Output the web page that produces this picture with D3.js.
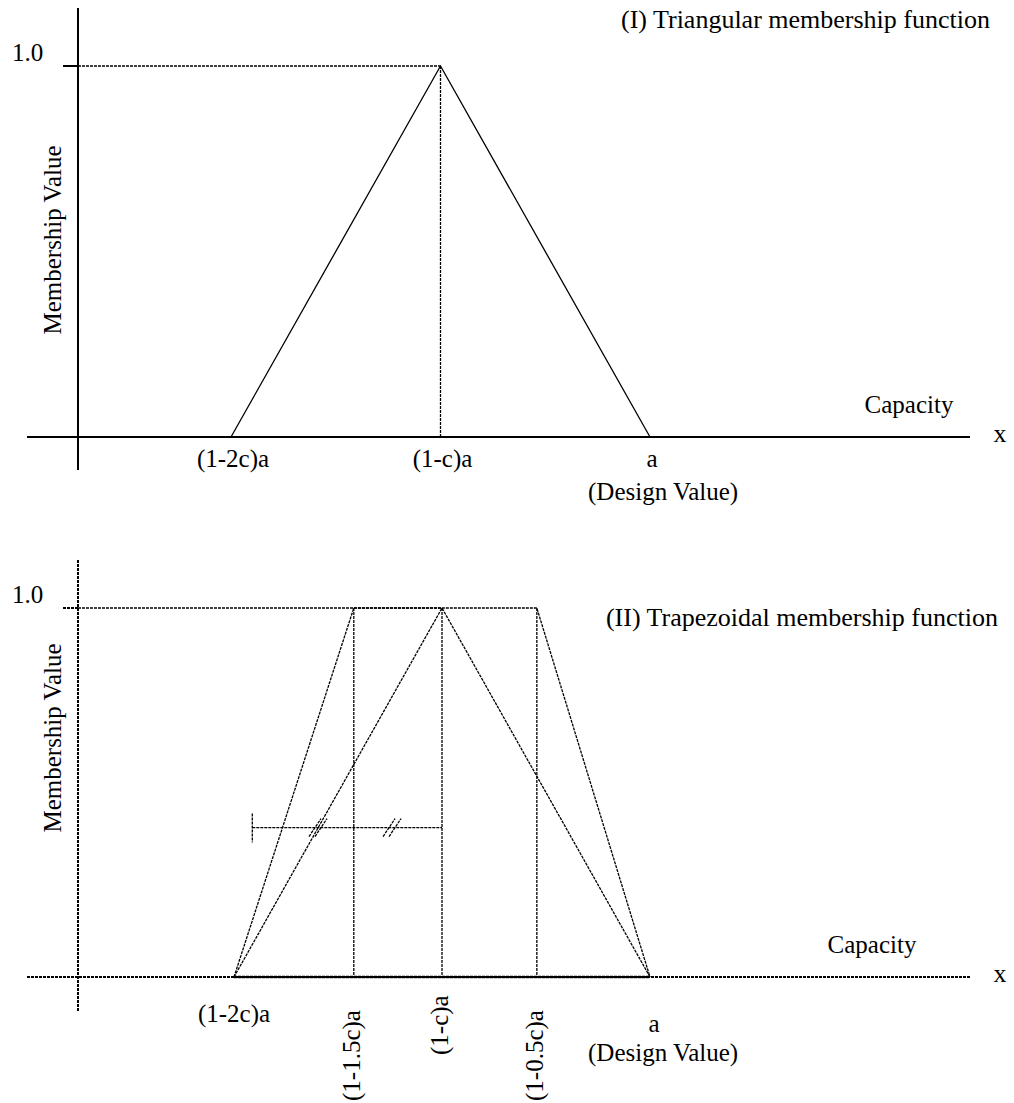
<!DOCTYPE html>
<html>
<head>
<meta charset="utf-8">
<script src="https://cdn.jsdelivr.net/npm/d3@7"></script>
<style>
  body { margin: 0; background: #fff; }
  text { font-family: "Liberation Serif", "DejaVu Serif", serif; fill: #000; font-size: 25px; }
</style>
</head>
<body>
<svg id="chart" width="1014" height="1103"></svg>
<script>
// x values are fractions of the design value a (c read as about 0.25)
const triX = [0.5, 0.75, 1.0];
const triY = [0, 1, 0];
const triTicks = ["(1-2c)a", "(1-c)a", "a"];

const trapX = [0.5, 0.644, 0.864, 1.0];
const trapY = [0, 1, 1, 0];
const trapTickX = [0.5, 0.644, 0.75, 0.864, 1.0];
const trapTicks = ["(1-2c)a", "(1-1.5c)a", "(1-c)a", "(1-0.5c)a", "a"];

// bracket showing the two equal halves (membership ~0.4)
const bracketX = [0.522, 0.75];
const bracketY = 0.405;
const slashX = [0.601, 0.69];

const titles = ["(I) Triangular membership function", "(II) Trapezoidal membership function"];

const svg = d3.select("#chart");
const DOT = "3,1";

function panel(o) {
  const g = svg.append("g");
  const x = d3.scaleLinear().domain([0.5, 1.0]).range(o.xr);
  const y = d3.scaleLinear().domain([0, 1]).range(o.yr);
  const line = (x1, y1, x2, y2, dash, w) =>
    g.append("line")
      .attr("x1", x1).attr("y1", y1).attr("x2", x2).attr("y2", y2)
      .attr("stroke", "#000")
      .attr("stroke-width", w || 1.3)
      .attr("stroke-dasharray", dash || null);

  const x0 = 78, y0 = y(0), y1 = y(1);
  // axes
  line(x0, o.axisTop, x0, o.axisBottom, o.axisDash, 2);
  line(27, y0, 970, y0, o.axisDash, 2);
  // 1.0 tick
  line(63, y1, x0, y1, o.axisDash, 2);
  g.append("text").attr("x", 12).attr("y", y1 - 5).text("1.0");

  g.append("text").attr("x", o.titleX).attr("y", o.titleY)
    .attr("text-anchor", "end").style("font-size", "26px").text(o.title);
  g.append("text").attr("x", o.capX).attr("y", y0 - 24)
    .attr("text-anchor", "middle").text("Capacity");
  g.append("text").attr("x", 1000).attr("y", y0 + 5)
    .attr("text-anchor", "middle").style("font-size", "26px").text("x");
  g.append("text")
    .attr("transform", `translate(61,${o.labelY}) rotate(-90)`)
    .attr("text-anchor", "middle").text("Membership Value");
  return { g, x, y, line };
}

// ---- panel I
const p1 = panel({ xr: [231, 650], yr: [437, 66], axisTop: 8, axisBottom: 470,
  axisDash: null, titleX: 990, titleY: 28, capX: 909, labelY: 240, title: titles[0] });
{
  const { g, x, y, line } = p1;
  line(78, y(1), x(triX[1]), y(1), DOT, 1.3);
  line(x(triX[1]), y(1), x(triX[1]), y(0), DOT, 1.3);
  line(x(triX[0]), y(0), x(triX[2]), y(0), DOT, 2);
  g.append("path")
    .datum(triX.map((v, i) => [v, triY[i]]))
    .attr("fill", "none").attr("stroke", "#000").attr("stroke-width", 1.3)
    .attr("d", d3.line().x(d => x(d[0])).y(d => y(d[1])));
  g.selectAll(".tick").data(triTicks).join("text")
    .attr("x", (d, i) => x(triX[i]) + 2).attr("y", 467)
    .attr("text-anchor", "middle").text(d => d);
  g.append("text").attr("x", 588).attr("y", 500).text("(Design Value)");
}

// ---- panel II
const p2 = panel({ xr: [234, 650], yr: [977, 608], axisTop: 560, axisBottom: 1012,
  axisDash: DOT, titleX: 998, titleY: 626, capX: 872, labelY: 738, title: titles[1] });
{
  const { g, x, y, line } = p2;
  line(78, y(1), x(0.75), y(1), DOT, 1.3);
  trapTickX.slice(1, 4).forEach(v => line(x(v), y(1), x(v), y(0), DOT, 1.3));
  const pathLine = d3.line().x(d => x(d[0])).y(d => y(d[1]));
  g.append("path")
    .datum(trapX.map((v, i) => [v, trapY[i]]))
    .attr("fill", "none").attr("stroke", "#000").attr("stroke-width", 1.3)
    .attr("stroke-dasharray", DOT).attr("d", pathLine);
  g.append("path")
    .datum(triX.map((v, i) => [v, triY[i]]))
    .attr("fill", "none").attr("stroke", "#000").attr("stroke-width", 1.3)
    .attr("stroke-dasharray", DOT).attr("d", pathLine);
  line(x(0.5), y(0), x(1), y(0), DOT, 2.5);

  // bracket with equal-length marks
  const by = y(bracketY);
  line(x(bracketX[0]), by, x(bracketX[1]), by, DOT, 1.3);
  line(x(bracketX[0]), by - 14, x(bracketX[0]), by + 15, DOT, 1.3);
  slashX.forEach(v => {
    [-3, 3].forEach(dx => line(x(v) + dx - 6, by + 9, x(v) + dx + 6, by - 9, DOT, 1.3));
  });

  const trapLabels = trapTicks.map((t, i) => ({ t, v: trapTickX[i] }));
  g.selectAll(".flat").data(trapLabels.filter((d, i) => i === 0 || i === 4)).join("text")
    .attr("x", d => x(d.v) + (d.v === 1 ? 4 : 0)).attr("y", d => d.v === 1 ? 1032 : 1022)
    .attr("text-anchor", "middle").text(d => d.t);
  g.selectAll(".rot").data(trapLabels.slice(1, 4)).join("text")
    .attr("transform", d => `translate(${x(d.v) + 6},${d.t === "(1-c)a" ? 1055 : 1101}) rotate(-90)`)
    .text(d => d.t);
  g.append("text").attr("x", 588).attr("y", 1061).text("(Design Value)");
}
</script>
</body>
</html>
